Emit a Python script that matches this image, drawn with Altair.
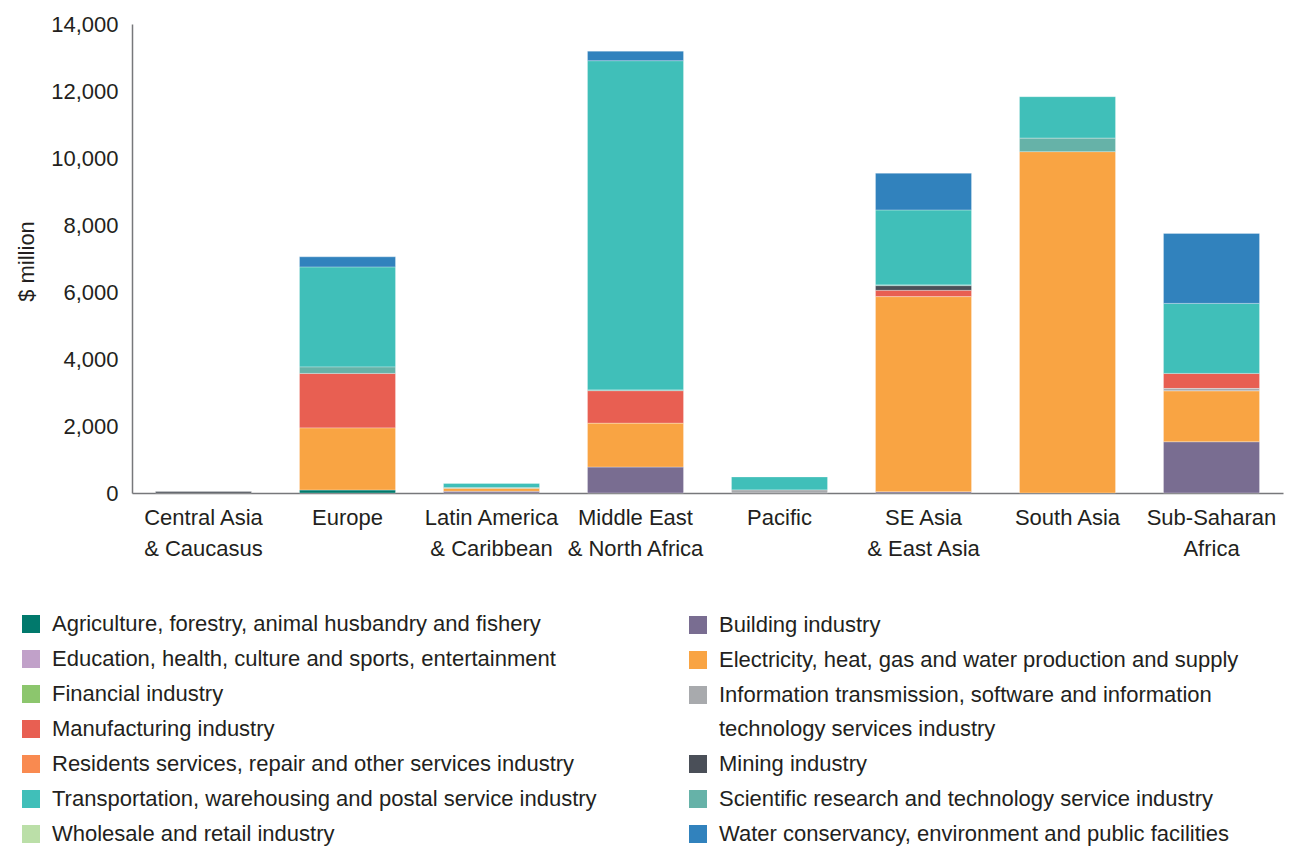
import altair as alt
import pandas as pd

regions = [
    "Central Asia\n& Caucasus",
    "Europe",
    "Latin America\n& Caribbean",
    "Middle East\n& North Africa",
    "Pacific",
    "SE Asia\n& East Asia",
    "South Asia",
    "Sub-Saharan\nAfrica",
]

categories = [
    "Agriculture, forestry, animal husbandry and fishery",
    "Building industry",
    "Education, health, culture and sports, entertainment",
    "Electricity, heat, gas and water production and supply",
    "Financial industry",
    "Information transmission, software and information technology services industry",
    "Manufacturing industry",
    "Mining industry",
    "Residents services, repair and other services industry",
    "Scientific research and technology service industry",
    "Transportation, warehousing and postal service industry",
    "Water conservancy, environment and public facilities",
    "Wholesale and retail industry",
]

colors = [
    "#01796c", "#796d91", "#c1a1c9", "#f9a443", "#8cc66d", "#a8aaad",
    "#e85f52", "#4a4f58", "#f98a50", "#66b2a8", "#40bfb9", "#3182bd", "#bbdfa8",
]

# values in $ million, per region (same order as regions)
agriculture    = [0,    90,   0,    0,    0,   0,    0,     0]
building       = [0,    0,    50,   775,  0,   40,   0,     1530]
education      = [0,    0,    0,    0,    0,   0,    0,     0]
electricity    = [0,    1850, 90,   1305, 0,   5820, 10190, 1520]
financial      = [0,    0,    0,    0,    0,   0,    0,     0]
information    = [0,    0,    0,    0,    90,  0,    0,     70]
manufacturing  = [0,    1630, 0,    975,  0,   190,  0,     450]
mining         = [45,   0,    0,    0,    0,   140,  0,     0]
residents      = [0,    0,    0,    0,    0,   0,    0,     0]
scientific     = [0,    190,  15,   20,   0,   20,   400,   0]
transportation = [0,    2990, 130,  9830, 390, 2240, 1240,  2090]
water          = [0,    300,  0,    285,  0,   1095, 0,     2090]
wholesale      = [0,    0,    0,    0,    0,   0,    0,     0]

series = [agriculture, building, education, electricity, financial, information,
          manufacturing, mining, residents, scientific, transportation, water, wholesale]

rows = []
for ci, (cat, vals) in enumerate(zip(categories, series)):
    for ri, reg in enumerate(regions):
        rows.append({"region": reg, "category": cat, "value": vals[ri],
                     "order": ci, "col": ci % 2})
df = pd.DataFrame(rows)

left_cats = [c for i, c in enumerate(categories) if i % 2 == 0]
right_cats = [c for i, c in enumerate(categories) if i % 2 == 1]
left_cols = [c for i, c in enumerate(colors) if i % 2 == 0]
right_cols = [c for i, c in enumerate(colors) if i % 2 == 1]

FONT = "Liberation Sans"
TXT = "#231f20"

info = categories[5]
label_expr = ("datum.label == '" + info + "' ? ['Information transmission, software and information', "
              "'technology services industry'] : datum.label")

def legend(x, y):
    return alt.Legend(
        title=None, orient="none", legendX=x, legendY=y, direction="vertical",
        symbolType="square", symbolSize=324, symbolStrokeWidth=0, symbolOpacity=1,
        labelFont=FONT, labelFontSize=22, labelColor=TXT, labelLimit=0,
        labelOffset=10, rowPadding=13, padding=0, labelExpr=label_expr,
    )

x_enc = alt.X("region:N", sort=regions, title=None,
              scale=alt.Scale(paddingInner=0.333, paddingOuter=0.163),
              axis=alt.Axis(labelAngle=0, labelExpr="split(datum.label, '\\n')",
                            labelFont=FONT, labelFontSize=22, labelColor=TXT,
                            labelPadding=14, labelLineHeight=31, ticks=False,
                            domainColor="#77787b", domainWidth=1.5, grid=False))
y_enc = alt.Y("v0:Q", title="$ million",
              scale=alt.Scale(domain=[0, 14000], nice=False),
              axis=alt.Axis(values=[0, 2000, 4000, 6000, 8000, 10000, 12000, 14000],
                            format=",.0f", labelFont=FONT, labelFontSize=22, labelColor=TXT,
                            labelPadding=14, ticks=False, grid=False,
                            domainColor="#77787b", domainWidth=1.5,
                            titleFont=FONT, titleFontSize=22, titleColor=TXT,
                            titleFontWeight="normal", titleAngle=270,
                            titleX=-106, titleY=237, titleAlign="center",
                            titleBaseline="middle"))

base = alt.Chart(df).transform_stack(
    stack="value", groupby=["region"], sort=[alt.SortField("order", order="ascending")],
    as_=["v0", "v1"]
).transform_filter("datum.value > 0")

left = base.transform_filter("datum.col == 0").mark_bar(
    stroke="white", strokeWidth=0.6, strokeOpacity=0.5).encode(
    x=x_enc, y=y_enc, y2="v1:Q",
    color=alt.Color("category:N", scale=alt.Scale(domain=left_cats, range=left_cols),
                    legend=legend(-112, 589)),
)
right = base.transform_filter("datum.col == 1").mark_bar(
    stroke="white", strokeWidth=0.6, strokeOpacity=0.5).encode(
    x=x_enc, y=y_enc, y2="v1:Q",
    color=alt.Color("category:N", scale=alt.Scale(domain=right_cats, range=right_cols),
                    legend=legend(555, 590)),
)

chart = alt.layer(left, right).resolve_scale(color="independent").properties(
    width=1151, height=469,
    autosize=alt.AutoSizeParams(type="none"),
    padding={"left": 124, "top": 16, "right": 2, "bottom": 353},
).configure(
    font=FONT, style={"guide-label": {"lineHeight": 34}}
).configure_view(strokeWidth=0, stroke="transparent")

chart.save("out.html", embed_options={"renderer": "svg", "actions": False})
